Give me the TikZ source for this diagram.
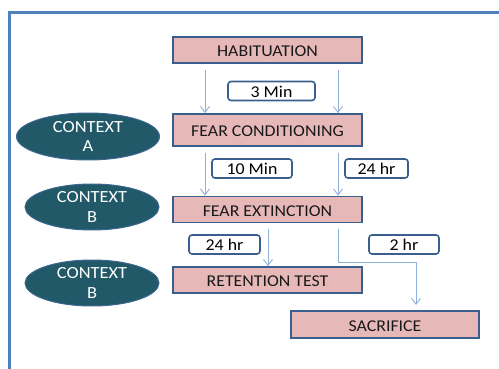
\documentclass[tikz,border=0pt]{standalone}
\usepackage{fontspec}
\setmainfont[FakeStretch=1.08]{Carlito}
\usetikzlibrary{arrows.meta,shapes.geometric}
\definecolor{frameblue}{HTML}{4F81BD}
\definecolor{boxpink}{HTML}{E6B9B8}
\definecolor{boxborder}{HTML}{3A5F8E}
\definecolor{ctxfill}{HTML}{215968}
\definecolor{ctxborder}{HTML}{3D6790}
\definecolor{arrowblue}{HTML}{8EB0DB}
\tikzset{
  stagebox/.style={draw=boxborder, line width=1.8pt, fill=boxpink, minimum height=26pt, inner sep=0pt, text height=13.5pt, text depth=0pt, font=\fontsize{16.5}{18}\selectfont, text=black!90},
  timelabel/.style={draw=boxborder, line width=1.6pt, fill=white, rounded corners=3pt, minimum height=19pt, inner sep=0pt, text height=13pt, text depth=0pt, font=\fontsize{16.5}{18}\selectfont, text=black},
  ctx/.style={ellipse, draw=ctxborder, line width=1pt, fill=ctxfill, text=white, inner sep=0pt, align=center, font=\fontsize{17}{19.5}\selectfont},
  flow/.style={draw=arrowblue, line width=0.9pt, -{Straight Barb[length=6pt,width=9pt,line width=0.9pt]}},
}
\begin{document}
\begin{tikzpicture}[x=1pt,y=-1pt]
\useasboundingbox (0,0) rectangle (499,369);
\draw[frameblue, line width=3pt] (9.5,372) -- (9.5,12.5) -- (502,12.5);

\node[stagebox, minimum width=189pt] (hab) at (267.5,50) {HABITUATION};
\node[stagebox, minimum width=189pt, minimum height=32pt] (fc) at (267.5,130) {FEAR CONDITIONING};
\node[stagebox, minimum width=189pt, minimum height=26pt] (fe) at (267.5,209.5) {FEAR EXTINCTION};
\node[stagebox, minimum width=189pt] (rt) at (267.5,280) {RETENTION TEST};
\node[stagebox, minimum width=188pt, minimum height=27pt] (sac) at (385,324.5) {SACRIFICE};

\node[timelabel, minimum width=87pt] (t1) at (271.5,91) {3 Min};
\node[timelabel, minimum width=80pt] (t2) at (252,168.5) {10 Min};
\node[timelabel, minimum width=63pt] (t3) at (376.5,168.5) {24 hr};
\node[timelabel, minimum width=71pt] (t4) at (224.5,244.5) {24 hr};
\node[timelabel, minimum width=70pt] (t5) at (404,244.5) {2 hr};

\node[ctx, minimum width=143pt, minimum height=47pt] (ca) at (88,136.5) {CONTEXT\\A};
\node[ctx, minimum width=134pt, minimum height=46pt] (cb1) at (92,207) {CONTEXT\\B};
\node[ctx, minimum width=134pt, minimum height=46pt] (cb2) at (92,283) {CONTEXT\\B};

\coordinate (a1s) at (205,70);
\coordinate (a2s) at (338,70);
\draw[flow] (a1s) -- (a1s |- fc.north);
\draw[flow] (a2s) -- (a2s |- fc.north);
\coordinate (b1s) at (205,153);
\coordinate (b2s) at (338,153);
\draw[flow] (b1s) -- (b1s |- fe.north);
\draw[flow] (b2s) -- (b2s |- fe.north);
\coordinate (c1s) at (268,229);
\draw[flow] (c1s) -- (c1s |- rt.north);
\coordinate (c2s) at (338,229);
\coordinate (c2m) at (338,262);
\coordinate (c2n) at (416,262);
\coordinate (c2e) at (416,305);
\draw[flow] (c2s) -- (c2m) -- (c2n) -- (c2e);
\end{tikzpicture}
\end{document}
